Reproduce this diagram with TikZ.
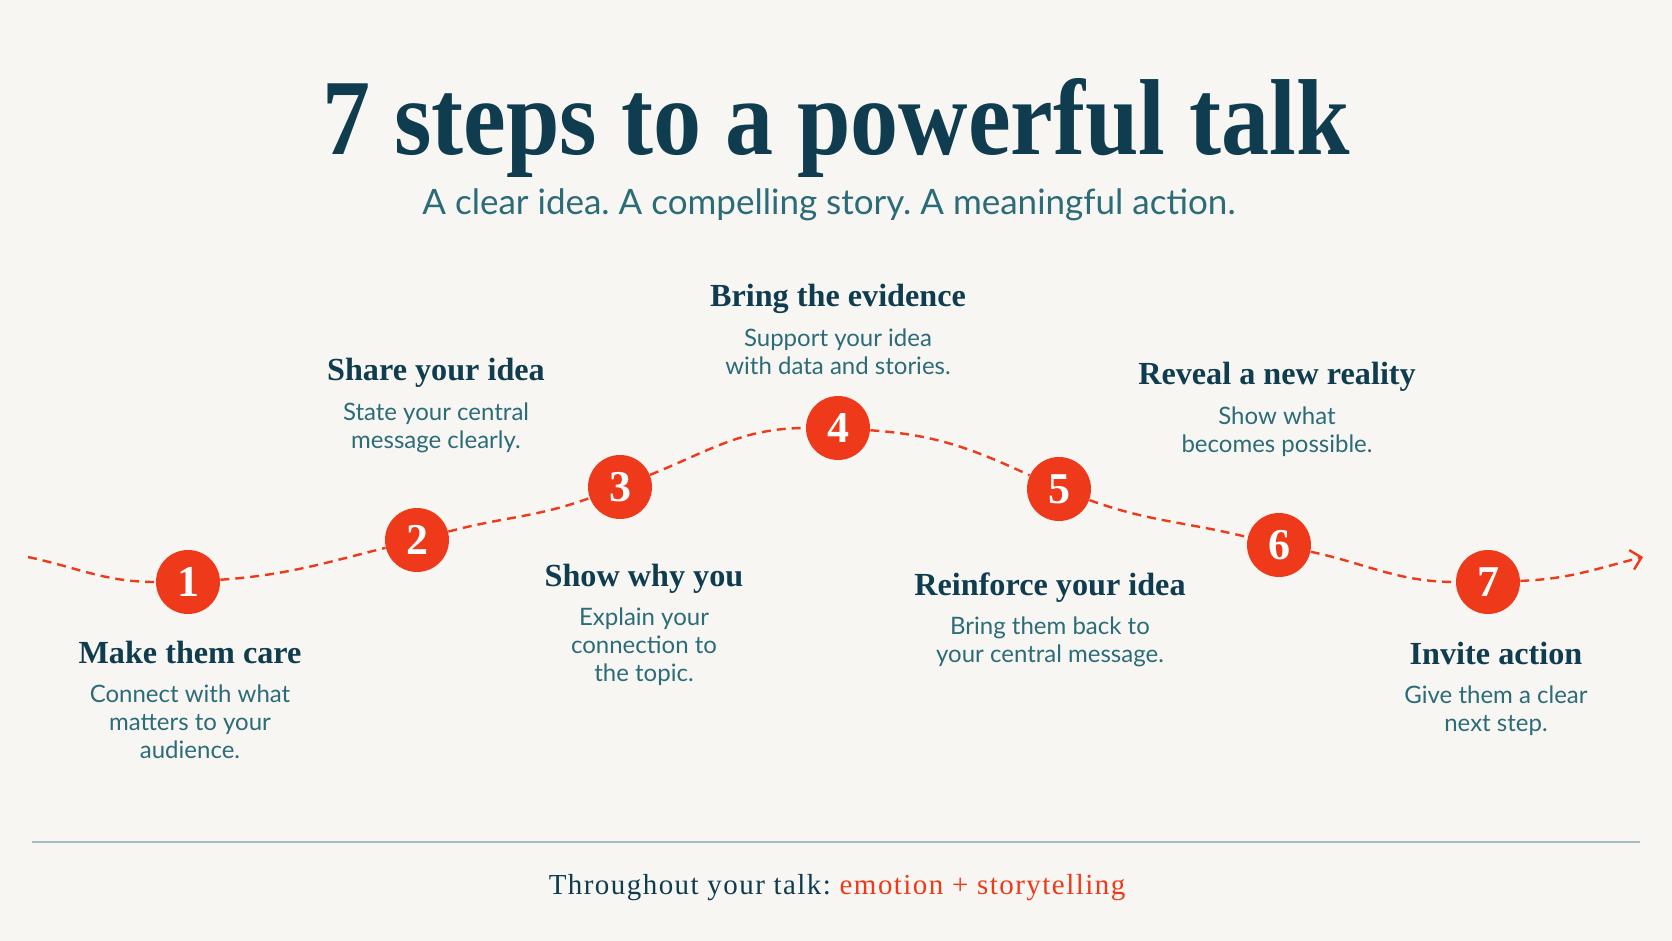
\documentclass[tikz,border=0pt]{standalone}
\usepackage{fontspec}
\setmainfont{Liberation Serif}
\newfontfamily\descfont{Lato}
\newfontfamily\footfont[LetterSpace=5]{Liberation Serif}
\usepackage{xcolor}
\usepackage{tikz}
\usetikzlibrary{arrows.meta, positioning}
\definecolor{talkbg}{RGB}{248,246,242}
\definecolor{talknavy}{RGB}{15,61,79}
\definecolor{talkteal}{RGB}{43,108,120}
\definecolor{talkred}{RGB}{238,58,26}
\definecolor{talkrule}{RGB}{169,188,196}
\tikzset{
  stepdot/.style={circle, fill=talkred, minimum size=32pt, inner sep=0pt,
    text=white, font=\fontsize{22}{22}\selectfont\bfseries},
  heading/.style={anchor=base, inner sep=0pt, text=talknavy,
    font=\fontsize{16.1}{18}\selectfont\bfseries},
  desc/.style={align=center, inner sep=0pt, text=talkteal,
    font=\descfont\fontsize{12}{14.2}\selectfont},
  pathline/.style={talkred, line width=1.2pt, dash pattern=on 4.5pt off 3pt}
}
\frenchspacing

\begin{document}
\begin{tikzpicture}[x=0.5pt, y=-0.5pt]
  % Page
  \fill[talkbg] (0,0) rectangle (1672,941);
  \useasboundingbox (0,0) rectangle (1672,941);

  % Title
  \node[anchor=base, inner sep=0pt, text=talknavy, font=\fontsize{54}{60}\selectfont\bfseries] (title) at (836,155) {\scalebox{0.89}[1]{7 steps to a powerful talk}};
  \node[anchor=base, inner sep=0pt, text=talkteal, font=\descfont\fontsize{17.5}{20}\selectfont] (subtitle) at (829,215) {A clear idea. A compelling story. A meaningful action.};

  % Steps
  \node[stepdot] (s1) at (188,582) {1};
  \node[stepdot] (s2) at (417,540) {2};
  \node[stepdot] (s3) at (620,487) {3};
  \node[stepdot] (s4) at (838,428) {4};
  \node[stepdot] (s5) at (1059,489) {5};
  \node[stepdot] (s6) at (1279,545) {6};
  \node[stepdot] (s7) at (1488,582) {7};

  % Path
  \coordinate (start) at (28,557);
  \coordinate (finish) at (1643,557);
  \draw[pathline] (start) to[out=-12, in=180] (s1);
  \draw[pathline] (s1) to[out=4, in=194] (s2);
  \draw[pathline] (s2) to[out=15, in=200] (s3);
  \draw[pathline] (s3) to[out=22, in=180] (s4);
  \draw[pathline] (s4) to[out=-4, in=155] (s5);
  \draw[pathline] (s5) to[out=-20, in=166] (s6);
  \draw[pathline] (s6) to[out=-12, in=180] (s7);
  \draw[pathline, -{Straight Barb[length=5pt, width=10pt]}] (s7) to[out=2, in=194] (finish);

  % Labels
  \node[heading] (h1) at (190,663) {Make them care};
  \node[desc, below=10.5pt of h1.base] (d1) {Connect with what\\matters to your\\audience.};
  \node[heading] (h2) at (436,381) {Share your idea};
  \node[desc, below=10.5pt of h2.base] (d2) {State your central\\message clearly.};
  \node[heading] (h3) at (644,586) {Show why you};
  \node[desc, below=10.5pt of h3.base] (d3) {Explain your\\connection to\\the topic.};
  \node[heading] (h4) at (838,307) {Bring the evidence};
  \node[desc, below=10.5pt of h4.base] (d4) {Support your idea\\with data and stories.};
  \node[heading] (h5) at (1050,595) {Reinforce your idea};
  \node[desc, below=10.5pt of h5.base] (d5) {Bring them back to\\your central message.};
  \node[heading] (h6) at (1277,385) {Reveal a new reality};
  \node[desc, below=10.5pt of h6.base] (d6) {Show what\\becomes possible.};
  \node[heading] (h7) at (1496,664) {Invite action};
  \node[desc, below=10.5pt of h7.base] (d7) {Give them a clear\\next step.};

  % Footer
  \draw[talkrule, line width=0.8pt] (32,842) -- (1640,842);
  \node[anchor=base, inner sep=0pt, text=talknavy, font=\footfont\fontsize{14.5}{16}\selectfont] (footer) at (837,894) {Throughout your talk: \textcolor{talkred}{emotion + storytelling}};
\end{tikzpicture}
\end{document}
